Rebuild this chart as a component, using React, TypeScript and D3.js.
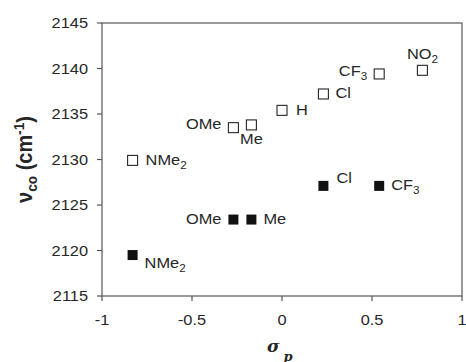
import React from "react";
import * as d3 from "d3";

const substituents = ["NMe2", "OMe", "Me", "H", "Cl", "CF3", "NO2"];
const sigmaP = [-0.83, -0.27, -0.17, 0.0, 0.23, 0.54, 0.78];
const openValues = [2129.9, 2133.5, 2133.8, 2135.4, 2137.2, 2139.4, 2139.8];
const filledSubstituents = ["NMe2", "OMe", "Me", "Cl", "CF3"];
const filledSigma = [-0.83, -0.27, -0.17, 0.23, 0.54];
const filledValues = [2119.5, 2123.4, 2123.4, 2127.1, 2127.1];
const xTicks = [-1, -0.5, 0, 0.5, 1];
const yTicks = [2115, 2120, 2125, 2130, 2135, 2140, 2145];

// label placement (dx, dy from marker centre, anchor)
const openPlace: Record<string, [number, number, string]> = {
  NMe2: [13, 5, "start"],
  OMe: [-12, 1, "end"],
  Me: [0, 19, "middle"],
  H: [14, 5, "start"],
  Cl: [12, 4, "start"],
  CF3: [-12, 2, "end"],
  NO2: [0, -11, "middle"],
};
const filledPlace: Record<string, [number, number, string]> = {
  NMe2: [12, 13, "start"],
  OMe: [-12, 4, "end"],
  Me: [12, 4, "start"],
  Cl: [13, -3, "start"],
  CF3: [12, 4, "start"],
};

const W = 466, H = 362;
const left = 102, right = 462, top = 23, bottom = 296;
const ink = "#262626";
const axis = "#555";
const font = "'Liberation Sans', Arial, sans-serif";
const stretch = 1.17;

function SText({ x, y, anchor, size, children }: any) {
  return (
    <text
      transform={`translate(${x},${y}) scale(${stretch},1)`}
      textAnchor={anchor}
      fontSize={size}
      fill={ink}
      fontFamily={font}
    >
      {children}
    </text>
  );
}

function Label({ text, x, y, anchor }: { text: string; x: number; y: number; anchor: string }) {
  const m = text.match(/^([A-Za-z]+?)(\d)$/);
  return (
    <SText x={x} y={y} anchor={anchor} size={14}>
      {m ? (
        <>
          {m[1]}
          <tspan fontSize={10} dy={4}>{m[2]}</tspan>
        </>
      ) : (
        text
      )}
    </SText>
  );
}

export default function App() {
  const x = d3.scaleLinear().domain([-1, 1]).range([left, right]);
  const y = d3.scaleLinear().domain([2115, 2145]).range([bottom, top]);
  const s = 10;
  return (
    <svg width={W} height={H} style={{ position: "absolute", left: 0, top: 0, background: "#fff" }}>
      <rect x={left} y={top} width={right - left} height={bottom - top} fill="none" stroke={axis} strokeWidth={1.2} />
      {yTicks.map((t) => (
        <g key={"y" + t}>
          <line x1={left - 5} x2={left} y1={y(t)} y2={y(t)} stroke={axis} strokeWidth={1.2} />
          <SText x={88} y={y(t) + 5} anchor="end" size={14}>
            {t}
          </SText>
        </g>
      ))}
      {xTicks.map((t) => (
        <g key={"x" + t}>
          <line x1={x(t)} x2={x(t)} y1={bottom} y2={bottom + 5} stroke={axis} strokeWidth={1.2} />
          <SText x={x(t)} y={325} anchor="middle" size={14}>
            {t}
          </SText>
        </g>
      ))}
      {sigmaP.map((sv, i) => {
        const cx = x(sv), cy = y(openValues[i]);
        const p = openPlace[substituents[i]];
        return (
          <g key={"o" + i}>
            <rect x={cx - s / 2} y={cy - s / 2} width={s} height={s} fill="#fff" stroke={ink} strokeWidth={1.1} />
            <Label text={substituents[i]} x={cx + p[0]} y={cy + p[1]} anchor={p[2]} />
          </g>
        );
      })}
      {filledSigma.map((sv, i) => {
        const cx = x(sv), cy = y(filledValues[i]);
        const p = filledPlace[filledSubstituents[i]];
        return (
          <g key={"f" + i}>
            <rect x={cx - s / 2} y={cy - s / 2} width={s} height={s} fill="#111" />
            <Label text={filledSubstituents[i]} x={cx + p[0]} y={cy + p[1]} anchor={p[2]} />
          </g>
        );
      })}
      <text
        transform={`translate(32,${(top + bottom) / 2}) rotate(-90) scale(1.05,1.15)`}
        textAnchor="middle"
        fontSize={19}
        fontWeight="bold"
        fill={ink}
        fontFamily={font}
      >
        ν
        <tspan fontSize={13} dy={4}>co</tspan>
        <tspan dy={-4}> (cm</tspan>
        <tspan fontSize={13} dy={-7}>-1</tspan>
        <tspan dy={7}>)</tspan>
      </text>
      <text x={267} y={352} fontSize={17} fontWeight="bold" fontStyle="italic" fill={ink} fontFamily="'DejaVu Serif', serif">
        σ
        <tspan fontSize={13} dx={4} dy={9}>p</tspan>
      </text>
    </svg>
  );
}
